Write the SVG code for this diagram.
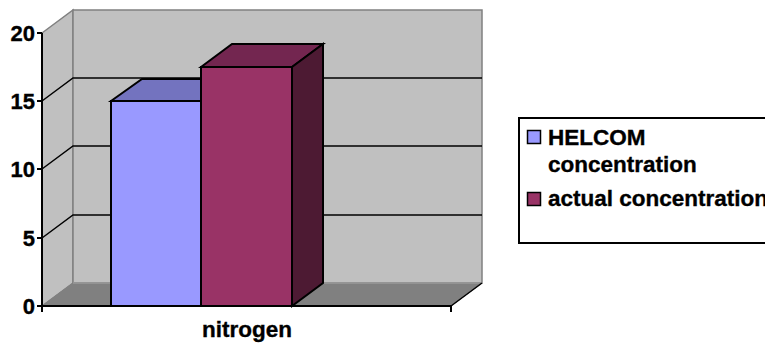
<svg xmlns="http://www.w3.org/2000/svg" width="765" height="343" viewBox="0 0 765 343">
<style>
.wall{fill:#C0C0C0;stroke:#808080;stroke-width:1.5}
.grid{stroke:#000;stroke-width:1.5;fill:none}
.axis{stroke:#000;stroke-width:2;fill:none}
.bar{stroke:#000;stroke-width:2;stroke-linejoin:miter}
.lbl{font-family:"Liberation Sans",Arial,sans-serif;font-weight:bold;font-size:22.5px;fill:#000;stroke:#000;stroke-width:0.35}
.num{font-family:"Liberation Sans",Arial,sans-serif;font-weight:bold;font-size:22px;fill:#000;stroke:#000;stroke-width:0.35;text-anchor:end}
</style>
<rect width="765" height="343" fill="#fff"/>
<g id="plot-area">
<polygon class="wall" points="42,33 73,10 73,283 42,306"/>
<polygon class="wall" points="73,10 482,10 482,283 73,283"/>
<polygon points="42,306 73,283 482,283 451,306" fill="#808080" stroke="#808080" stroke-width="1"/>
<line x1="73" y1="283" x2="482" y2="283" stroke="#9a9a9a" stroke-width="1.5"/>
<line x1="451" y1="306" x2="482" y2="283" stroke="#000" stroke-width="1.5"/>
</g>
<g id="gridlines">
<polyline class="grid" points="42,101 73,78 482,78"/>
<polyline class="grid" points="42,169 73,146 482,146"/>
<polyline class="grid" points="42,238 73,215 482,215"/>
</g>
<g id="bar-helcom">
<polygon class="bar" fill="#7373BF" points="111,101 142,79 232,79 201,101"/>
<rect class="bar" fill="#9999FF" x="111" y="101" width="90" height="205"/>
</g>
<g id="bar-actual">
<polygon class="bar" fill="#732650" points="201,67 232,44 323,44 292,67"/>
<polygon class="bar" fill="#4D1A33" points="292,67 323,44 323,283 292,306"/>
<rect class="bar" fill="#993366" x="201" y="67" width="91" height="239"/>
</g>
<g id="axes">
<line class="axis" x1="42" y1="33" x2="42" y2="307"/>
<line class="axis" x1="41" y1="306" x2="451" y2="306"/>
<line class="axis" x1="37" y1="33" x2="42" y2="33"/>
<line class="axis" x1="37" y1="101" x2="42" y2="101"/>
<line class="axis" x1="37" y1="169" x2="42" y2="169"/>
<line class="axis" x1="37" y1="238" x2="42" y2="238"/>
<line class="axis" x1="37" y1="306" x2="42" y2="306"/>
<line class="axis" x1="42" y1="306" x2="42" y2="312"/>
<line class="axis" x1="451" y1="306" x2="451" y2="312"/>
<text class="num" x="35" y="41">20</text>
<text class="num" x="35" y="109">15</text>
<text class="num" x="35" y="177">10</text>
<text class="num" x="35" y="246">5</text>
<text class="num" x="35" y="314">0</text>
<text class="lbl" x="247" y="337" text-anchor="middle">nitrogen</text>
</g>
<g id="legend">
<rect x="519" y="118" width="270" height="125" fill="#fff" stroke="#000" stroke-width="2"/>
<rect x="527.5" y="130.5" width="13" height="13" fill="#9999FF" stroke="#000" stroke-width="1.5"/>
<rect x="527.5" y="192.5" width="13" height="13" fill="#993366" stroke="#000" stroke-width="1.5"/>
<text class="lbl" x="548" y="145">HELCOM</text>
<text class="lbl" x="548" y="172">concentration</text>
<text class="lbl" x="548" y="206">actual concentration</text>
</g>
</svg>
